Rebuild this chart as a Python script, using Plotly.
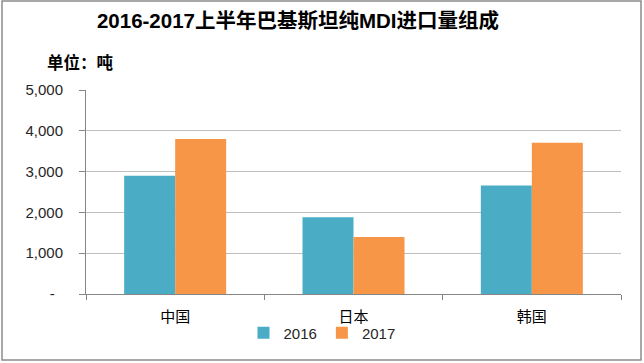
import plotly.graph_objects as go

categories = ["中国", "日本", "韩国"]
series_names = ["2016", "2017"]
values_2016 = [2900, 1880, 2660]
values_2017 = [3800, 1400, 3710]
y_tick_vals = [0, 1000, 2000, 3000, 4000, 5000]
y_tick_text = ["-\u00a0\u00a0", "1,000", "2,000", "3,000", "4,000", "5,000"]

colors = ["#4BACC6", "#F79646"]
cjk = "Liberation Sans, Noto Sans CJK SC"

fig = go.Figure()
for name, vals, c in zip(series_names, [values_2016, values_2017], colors):
    fig.add_trace(go.Bar(x=categories, y=vals, name=name, marker=dict(color=c, line=dict(width=0))))

W, H = 644, 363
L, R, T, B = 86, 23, 90, 69
pw, ph = W - L - R, H - T - B

fig.update_layout(
    width=W, height=H,
    margin=dict(l=L, r=R, t=T, b=B, pad=0),
    paper_bgcolor="white", plot_bgcolor="white",
    barmode="group", bargap=0.428, bargroupgap=0,
    font=dict(family=cjk, size=15, color="#262626"),
    title=dict(text="<b>2016-2017上半年巴基斯坦纯MDI进口量组成</b>",
               font=dict(family="Liberation Sans, Noto Sans CJK SC", size=20.5, color="#000000"),
               x=298 / W, xanchor="center", xref="container",
               y=1 - 21 / H, yanchor="middle", yref="container"),
    legend=dict(orientation="h", x=(322 - L) / pw, xanchor="center",
                y=(H - B - 333) / ph, yanchor="middle",
                font=dict(size=15, color="#262626"), itemwidth=30,
                traceorder="normal", bgcolor="rgba(0,0,0,0)"),
    showlegend=True,
)
fig.update_xaxes(
    type="category", showline=True, linecolor="#868686", linewidth=1,
    ticks="outside", tickson="boundaries", ticklen=5, tickcolor="#868686",
    showgrid=False, tickfont=dict(size=15, color="#000000"),
    ticklabelstandoff=9,
)
fig.update_yaxes(
    range=[0, 5000], tickvals=y_tick_vals, ticktext=y_tick_text,
    showline=True, linecolor="#868686", linewidth=1,
    ticks="outside", ticklen=6, tickcolor="#868686",
    showgrid=True, gridcolor="#BFBFBF", gridwidth=1, zeroline=False,
    tickfont=dict(family="Liberation Sans", size=15, color="#262626"),
    ticklabelstandoff=13,
)
fig.add_annotation(text="<b>单位：吨</b>", xref="paper", yref="paper",
                   x=(45 - L) / pw, xanchor="left", y=(H - B - 62) / ph, yanchor="middle",
                   showarrow=False, font=dict(family=cjk, size=16.5, color="#000000"))
fig.add_shape(type="rect", xref="paper", yref="paper",
              x0=(2 - L) / pw, x1=(641 - L) / pw,
              y0=(H - B - 360) / ph, y1=(H - B - 1) / ph,
              line=dict(color="#8C8C8C", width=1.5), fillcolor="rgba(0,0,0,0)", layer="below")

fig.write_html("out.html", config={"displayModeBar": False},
               post_script="document.body.style.margin='0';document.body.style.overflow='hidden';")
